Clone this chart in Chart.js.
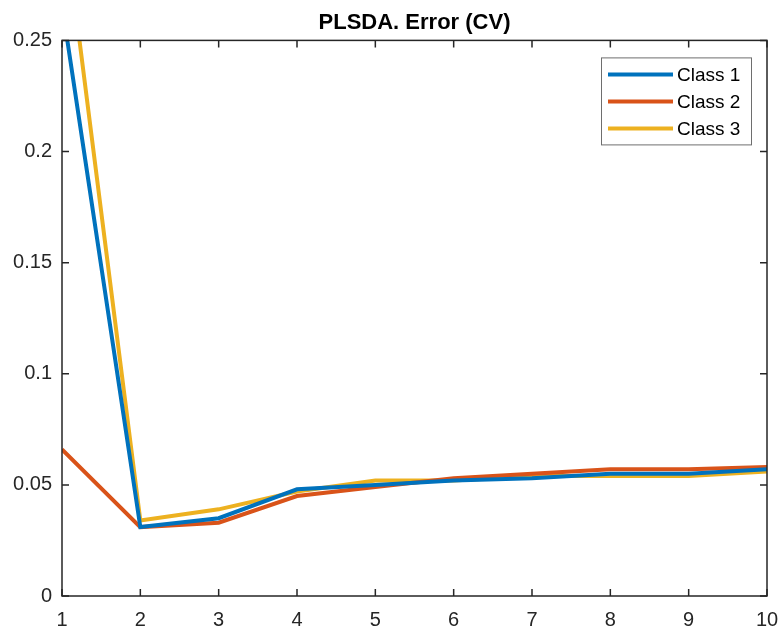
<!DOCTYPE html>
<html>
<head>
<meta charset="utf-8">
<script src="https://cdn.jsdelivr.net/npm/chart.js@4"></script>
<style>
  html, body { margin: 0; padding: 0; background: #fff; }
  #wrap { width: 784px; height: 631px; }
</style>
</head>
<body>
<div id="wrap"><canvas id="errChart" width="784" height="631"></canvas></div>
<script>
// valores
const xLabels = ['1', '2', '3', '4', '5', '6', '7', '8', '9', '10'];
const class1 = [0.266, 0.031, 0.035, 0.048, 0.050, 0.052, 0.053, 0.055, 0.055, 0.057];
const class2 = [0.066, 0.031, 0.033, 0.045, 0.049, 0.053, 0.055, 0.057, 0.057, 0.058];
const class3 = [0.312, 0.034, 0.039, 0.047, 0.052, 0.052, 0.054, 0.054, 0.054, 0.056];
const yTicks = [0, 0.05, 0.1, 0.15, 0.2, 0.25];
const seriesNames = ['Class 1', 'Class 2', 'Class 3'];
const colors = ['#0072BD', '#D95319', '#EDB120'];

const FONT = '"Liberation Sans", Arial, Helvetica, sans-serif';

// caixa dos eixos + ticks para dentro + legenda estilo matlab
const matlabBox = {
  id: 'matlabBox',
  afterDatasetsDraw(chart) {
    const ctx = chart.ctx;
    const a = chart.chartArea;
    const xs = chart.scales.x;
    const ys = chart.scales.y;
    const tl = 7;
    ctx.save();
    ctx.strokeStyle = '#262626';
    ctx.lineWidth = 1.5;
    ctx.beginPath();
    xLabels.forEach((lab, i) => {
      const px = xs.getPixelForValue(i);
      ctx.moveTo(px, a.bottom); ctx.lineTo(px, a.bottom - tl);
      ctx.moveTo(px, a.top); ctx.lineTo(px, a.top + tl);
    });
    yTicks.forEach(v => {
      const py = ys.getPixelForValue(v);
      ctx.moveTo(a.left, py); ctx.lineTo(a.left + tl, py);
      ctx.moveTo(a.right, py); ctx.lineTo(a.right - tl, py);
    });
    ctx.stroke();
    ctx.strokeRect(a.left, a.top, a.right - a.left, a.bottom - a.top);

    // legenda
    const bw = 150, bh = 87;
    const bx = a.right - 16 - bw;
    const by = a.top + 17;
    ctx.fillStyle = '#fff';
    ctx.fillRect(bx, by, bw, bh);
    ctx.strokeStyle = '#6e6e6e';
    ctx.lineWidth = 1;
    ctx.strokeRect(bx + 0.5, by + 0.5, bw, bh);
    ctx.font = '19px ' + FONT;
    ctx.textBaseline = 'middle';
    ctx.textAlign = 'left';
    chart.data.datasets.forEach((ds, i) => {
      const ry = by + 17 + i * 27;
      ctx.strokeStyle = ds.borderColor;
      ctx.lineWidth = 4;
      ctx.beginPath();
      ctx.moveTo(bx + 7, ry); ctx.lineTo(bx + 72, ry);
      ctx.stroke();
      ctx.fillStyle = '#000';
      ctx.fillText(ds.label, bx + 76, ry + 1);
    });
    ctx.restore();
  }
};

const ctx = document.getElementById('errChart').getContext('2d');
new Chart(ctx, {
  type: 'line',
  data: {
    labels: xLabels,
    datasets: [class1, class2, class3].map((vals, i) => ({
      label: seriesNames[i],
      data: vals,
      borderColor: colors[i],
      backgroundColor: colors[i],
      borderWidth: 4,
      pointRadius: 0,
      tension: 0,
      clip: 0
    }))
  },
  options: {
    responsive: false,
    animation: false,
    devicePixelRatio: 1,
    layout: { padding: { left: 0, right: 17, top: 0, bottom: 0 } },
    plugins: {
      legend: { display: false },
      tooltip: { enabled: false },
      title: {
        display: true,
        text: 'PLSDA. Error (CV)',
        fullSize: false,
        color: '#000',
        font: { family: FONT, size: 22, weight: 'bold', lineHeight: 1.2 },
        padding: { top: 10, bottom: 4 }
      }
    },
    scales: {
      x: {
        offset: false,
        grid: { display: false, drawTicks: false },
        border: { display: false },
        ticks: {
          color: '#262626',
          padding: 12,
          maxRotation: 0,
          autoSkip: false,
          font: { family: FONT, size: 20 }
        },
        afterFit(scale) {
          scale.height = 35;
          scale.paddingRight = 0;
          scale.paddingLeft = 0;
        }
      },
      y: {
        min: 0,
        max: 0.25,
        grid: { display: false, drawTicks: false },
        border: { display: false },
        afterBuildTicks(scale) { scale.ticks = yTicks.map(v => ({ value: v })); },
        ticks: {
          color: '#262626',
          padding: 10,
          font: { family: FONT, size: 20 },
          callback: v => String(v)
        },
        afterFit(scale) {
          scale.width = 62;
          scale.paddingTop = 0;
          scale.paddingBottom = 0;
        }
      }
    }
  },
  plugins: [matlabBox]
});
</script>
</body>
</html>
